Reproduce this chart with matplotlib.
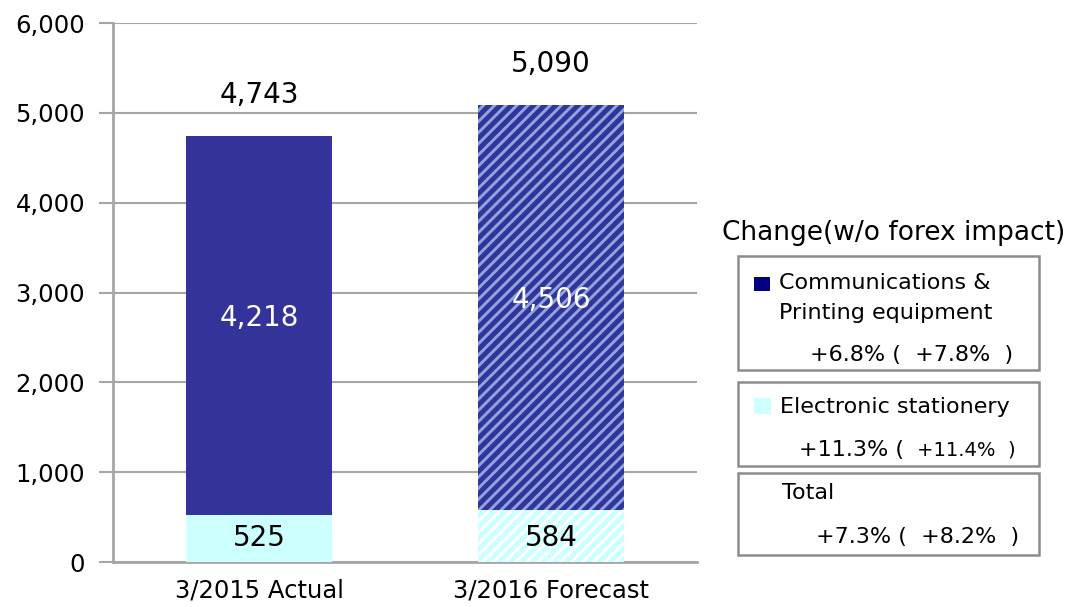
import matplotlib
matplotlib.use("Agg")
import matplotlib.pyplot as plt
from matplotlib.patches import Rectangle

categories = ["3/2015 Actual", "3/2016 Forecast"]
comm_printing = [4218, 4506]
stationery = [525, 584]
totals = [4743, 5090]
yticks = [0, 1000, 2000, 3000, 4000, 5000, 6000]

legend_title = "Change(w/o forex impact)"
comm_label = ["Communications &", "Printing equipment"]
comm_change = ("+6.8%", "+7.8%")
stat_label = "Electronic stationery"
stat_change = ("+11.3%", "+11.4%")
total_label = "Total"
total_change = ("+7.3%", "+8.2%")

NAVY = "#333399"
CYAN = "#CCFFFF"
GRID = "#A6A6A6"

plt.rcParams['font.family'] = ['DejaVu Sans']
plt.rcParams['hatch.linewidth'] = 2.1

W, H = 1068, 607
fig = plt.figure(figsize=(W / 100, H / 100), dpi=100)
ax = fig.add_axes([113 / W, 1 - 562 / H, (697 - 113) / W, (562 - 23) / H])

x = list(range(len(categories)))
width = 0.5
# Actual (solid)
ax.bar(x[0], stationery[0], width, color=CYAN, linewidth=0, zorder=3)
ax.bar(x[0], comm_printing[0], width, bottom=stationery[0], color=NAVY, linewidth=0, zorder=3)
# Forecast (hatched)
ax.bar(x[1], stationery[1], width, facecolor=CYAN, edgecolor="white", hatch="///", linewidth=0, zorder=3)
ax.bar(x[1], comm_printing[1], width, bottom=stationery[1], facecolor=NAVY, edgecolor="#8CA6E0",
       hatch="///", linewidth=0, zorder=3)

for i in x:
    ax.text(i, totals[i] + 450, f"{totals[i]:,}", ha="center", va="center", fontsize=20, color="black")
    ax.text(i, stationery[i] + comm_printing[i] / 2 + 80, f"{comm_printing[i]:,}", ha="center",
            va="center", fontsize=20, color="white", zorder=4)
    ax.text(i, 267, f"{stationery[i]:,}", ha="center", va="center", fontsize=20,
            color="black", zorder=4)

ax.set_xlim(-0.5, 1.5)
ax.set_ylim(0, 6000)
ax.set_yticks(yticks)
ax.set_yticklabels([f"{v:,}" for v in yticks], fontsize=17.5)
ax.set_xticks(x)
ax.set_xticklabels(categories, fontsize=17.5)
ax.tick_params(axis="y", length=10, width=1.5, color=GRID, pad=10)
ax.tick_params(axis="x", length=0, pad=12)
ax.yaxis.grid(True, color=GRID, linewidth=1.5, zorder=0)
ax.set_axisbelow(True)
for s in ["top", "right"]:
    ax.spines[s].set_visible(False)
for s in ["left", "bottom"]:
    ax.spines[s].set_color(GRID)
    ax.spines[s].set_linewidth(2)


def fx(px):
    return px / W


def fy(py):
    return 1 - py / H


fig.text(fx(722), fy(233), legend_title, fontsize=19, ha="left", va="center")

boxes = [(256, 370), (382, 466), (473, 555)]
for top, bot in boxes:
    fig.patches.append(Rectangle((fx(738), fy(bot)), fx(1039) - fx(738), fy(top) - fy(bot),
                                 transform=fig.transFigure, facecolor="white", edgecolor="#8C8C8C",
                                 linewidth=1.8))

# Box 1
fig.patches.append(Rectangle((fx(754), fy(291)), fx(16), 14 / H, transform=fig.transFigure,
                             facecolor="#000080", linewidth=0))
fig.text(fx(779), fy(283), comm_label[0], fontsize=16, ha="left", va="center")
fig.text(fx(779), fy(313), comm_label[1], fontsize=16, ha="left", va="center")
fig.text(fx(810), fy(355), f"{comm_change[0]} (  {comm_change[1]}  )", fontsize=16, ha="left", va="center")
# Box 2
fig.patches.append(Rectangle((fx(754), fy(414)), fx(17), 16 / H, transform=fig.transFigure,
                             facecolor=CYAN, linewidth=0))
fig.text(fx(780), fy(407), stat_label, fontsize=16, ha="left", va="center")
fig.text(fx(799), fy(450), f"{stat_change[0]} (", fontsize=16, ha="left", va="center")
fig.text(fx(917), fy(450), f"{stat_change[1]}  )", fontsize=14, ha="left", va="center")
# Box 3
fig.text(fx(782), fy(493), total_label, fontsize=16, ha="left", va="center")
fig.text(fx(816), fy(537), f"{total_change[0]} (  {total_change[1]}  )", fontsize=16, ha="left", va="center")

fig.savefig("out.png", dpi=100)
